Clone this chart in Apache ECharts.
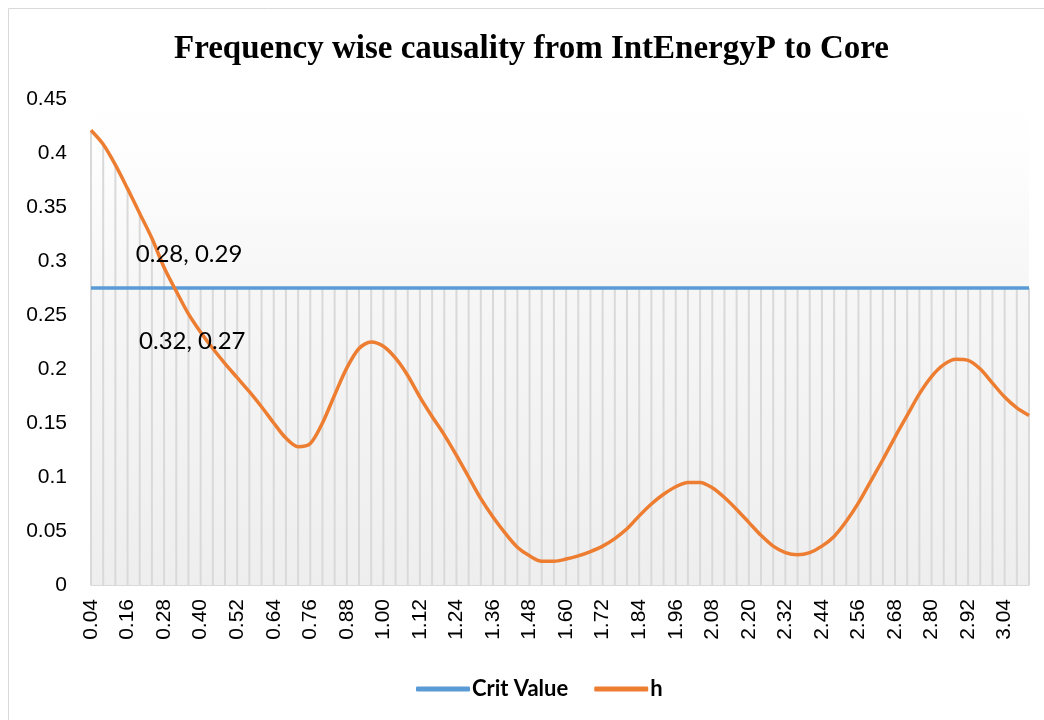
<!DOCTYPE html>
<html>
<head>
<meta charset="utf-8">
<script src="https://cdn.jsdelivr.net/npm/echarts@6/dist/echarts.min.js"></script>
<style>
  html, body { margin: 0; padding: 0; background: #fff; }
  #chart { width: 1044px; height: 720px; }
</style>
</head>
<body>
<div id="chart"></div>
<script>
// frequency grid (0.04 .. 3.12)
const categories = [
  '0.04','0.08','0.12','0.16','0.20','0.24','0.28','0.32','0.36','0.40','0.44','0.48','0.52',
  '0.56','0.60','0.64','0.68','0.72','0.76','0.80','0.84','0.88','0.92','0.96','1.00','1.04',
  '1.08','1.12','1.16','1.20','1.24','1.28','1.32','1.36','1.40','1.44','1.48','1.52','1.56',
  '1.60','1.64','1.68','1.72','1.76','1.80','1.84','1.88','1.92','1.96','2.00','2.04','2.08',
  '2.12','2.16','2.20','2.24','2.28','2.32','2.36','2.40','2.44','2.48','2.52','2.56','2.60',
  '2.64','2.68','2.72','2.76','2.80','2.84','2.88','2.92','2.96','3.00','3.04','3.08','3.12'
]

const critValues = [
  0.275,0.275,0.275,0.275,0.275,0.275,0.275,0.275,0.275,0.275,0.275,0.275,0.275,
  0.275,0.275,0.275,0.275,0.275,0.275,0.275,0.275,0.275,0.275,0.275,0.275,0.275,
  0.275,0.275,0.275,0.275,0.275,0.275,0.275,0.275,0.275,0.275,0.275,0.275,0.275,
  0.275,0.275,0.275,0.275,0.275,0.275,0.275,0.275,0.275,0.275,0.275,0.275,0.275,
  0.275,0.275,0.275,0.275,0.275,0.275,0.275,0.275,0.275,0.275,0.275,0.275,0.275,
  0.275,0.275,0.275,0.275,0.275,0.275,0.275,0.275,0.275,0.275,0.275,0.275,0.275
]

const hValues = [
  0.421,0.408,0.389,0.367,0.344,0.321,0.294,0.272,0.251,0.234,0.219,0.205,0.192,
  0.179,0.165,0.150,0.136,0.128,0.131,0.150,0.176,0.201,0.219,0.225,0.221,0.210,
  0.194,0.174,0.156,0.139,0.120,0.100,0.080,0.063,0.048,0.035,0.027,0.022,0.022,
  0.024,0.027,0.031,0.036,0.043,0.052,0.064,0.075,0.084,0.091,0.095,0.095,0.090,
  0.081,0.070,0.058,0.046,0.036,0.030,0.028,0.030,0.036,0.045,0.059,0.076,0.096,
  0.116,0.137,0.157,0.177,0.193,0.204,0.209,0.208,0.200,0.187,0.174,0.164,0.157
]

// points that carry a "x, y" data label
const labelledIdx = [6, 7]
const labelOffsets = [[25, -13], [16, 50]]

const chart = echarts.init(document.getElementById('chart'))

// drop lines go from the axis up to the higher of the two series
const dropData = hValues.map((v, i) => Math.max(v, critValues[i]))

chart.setOption({
  animation: false,
  backgroundColor: '#fff',
  title: {
    text: 'Frequency wise causality from IntEnergyP to Core',
    left: 174,
    top: 33,
    padding: 0,
    textStyle: {
      fontFamily: 'Liberation Serif',
      fontWeight: 'bold',
      fontSize: 33,
      color: '#000'
    }
  },
  graphic: [{
    type: 'rect',
    silent: true,
    shape: { x: 8.5, y: 8.5, width: 1100, height: 800 },
    style: { fill: 'none', stroke: '#d9d9d9', lineWidth: 1 }
  }],
  legend: {
    data: ['Crit Value', 'h'],
    left: 411,
    top: 673,
    icon: 'roundRect',
    itemWidth: 54,
    itemHeight: 5,
    itemGap: 26,
    textStyle: {
      fontFamily: 'Lato',
      fontWeight: 'bold',
      fontSize: 22,
      color: '#000',
      padding: [0, 0, 0, -3]
    }
  },
  grid: {
    left: 91,
    right: 15,
    top: 99,
    bottom: 135,
    show: true,
    borderWidth: 0,
    backgroundColor: new echarts.graphic.LinearGradient(0, 0, 0, 1, [
      { offset: 0, color: '#ffffff' },
      { offset: 0.13, color: '#fdfdfd' },
      { offset: 0.4, color: '#f6f6f6' },
      { offset: 1, color: '#eeeeee' }
    ])
  },
  xAxis: {
    type: 'category',
    data: categories,
    boundaryGap: false,
    axisLine: { lineStyle: { color: '#d9d9d9', width: 1 } },
    axisTick: { show: false },
    axisLabel: {
      interval: 2,
      rotate: 90,
      margin: 14,
      fontFamily: 'Liberation Sans',
      fontSize: 21,
      color: '#000'
    },
    splitLine: { show: false }
  },
  yAxis: {
    type: 'value',
    min: 0,
    max: 0.45,
    interval: 0.05,
    axisLine: { show: false },
    axisTick: { show: false },
    splitLine: { show: false },
    axisLabel: {
      margin: 24,
      fontFamily: 'Liberation Sans',
      fontSize: 21,
      color: '#000'
    }
  },
  series: [
    {
      name: 'drop',
      type: 'bar',
      data: dropData,
      barWidth: 2,
      silent: true,
      z: 1,
      itemStyle: { color: '#d9d9d9' }
    },
    {
      name: 'Crit Value',
      type: 'line',
      data: critValues,
      showSymbol: false,
      z: 3,
      itemStyle: { color: '#5b9bd5' },
      lineStyle: { color: '#5b9bd5', width: 3.5 }
    },
    {
      name: 'h',
      type: 'line',
      data: hValues,
      smooth: 0.3,
      showSymbol: false,
      z: 4,
      itemStyle: { color: '#ed7d31' },
      lineStyle: { color: '#ed7d31', width: 3.5 },
      markPoint: {
        symbol: 'circle',
        symbolSize: 1,
        itemStyle: { color: 'rgba(0,0,0,0)' },
        data: labelledIdx.map((idx, k) => ({
          coord: [categories[idx], hValues[idx]],
          label: {
            show: true,
            position: 'inside',
            offset: labelOffsets[k],
            formatter: categories[idx] + ', ' + hValues[idx].toFixed(2),
            fontFamily: 'Lato',
            fontSize: 24,
            color: '#000'
          }
        }))
      }
    }
  ]
})
</script>
</body>
</html>
